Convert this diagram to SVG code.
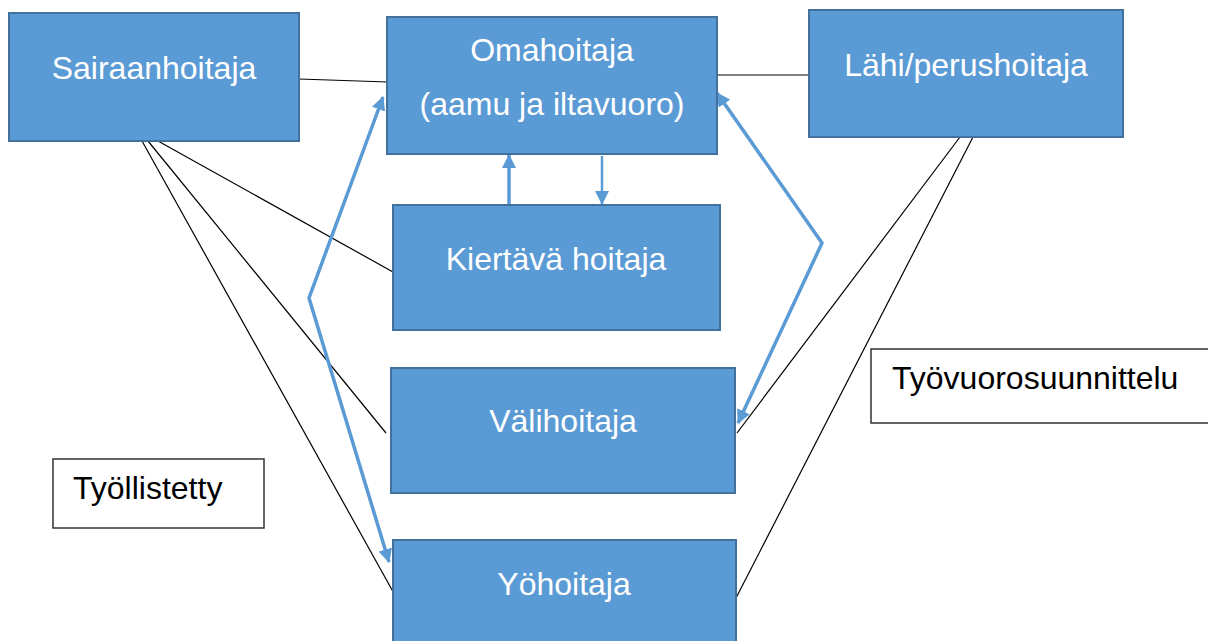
<svg xmlns="http://www.w3.org/2000/svg" width="1208" height="641" viewBox="0 0 1208 641">
  <style>
    .node rect { fill: #5B9BD5; stroke: #41719C; stroke-width: 2; }
    .node text { fill: #FFFFFF; font-family: "Liberation Sans", Arial, sans-serif; font-size: 32px; text-anchor: middle; }
    .note rect { fill: #FFFFFF; stroke: #333333; stroke-width: 1.5; }
    .note text { fill: #000000; font-family: "Liberation Sans", Arial, sans-serif; font-size: 32px; }
    .link { stroke: #000000; stroke-width: 1.2; fill: none; }
    .flow { stroke: #5B9BD5; stroke-width: 3.5; fill: none; stroke-linejoin: miter; }
  </style>
  <defs>
    <marker id="head" viewBox="0 0 14 14" refX="13" refY="7" markerWidth="14" markerHeight="14" markerUnits="userSpaceOnUse" orient="auto-start-reverse">
      <path d="M0,0 L14,7 L0,14 z" fill="#5B9BD5"/>
    </marker>
  </defs>

  <rect width="1208" height="641" fill="#FFFFFF"/>

  <!-- connectors -->
  <g id="connectors">
    <line class="link" x1="299" y1="79" x2="388" y2="82"/>
    <line class="link" x1="717" y1="75" x2="809" y2="75"/>
    <line class="link" x1="158" y1="141" x2="393" y2="272"/>
    <line class="link" x1="148" y1="141" x2="386" y2="433"/>
    <line class="link" x1="142" y1="141" x2="396" y2="597"/>
    <line class="link" x1="960" y1="137" x2="737" y2="433"/>
    <line class="link" x1="973" y1="137" x2="736" y2="598"/>

    <line class="flow" x1="509" y1="205" x2="509" y2="155" stroke-width="4" marker-end="url(#head)"/>
    <line class="flow" x1="602" y1="156" x2="602" y2="204" style="stroke-width:2.5" marker-end="url(#head)"/>
    <path class="flow" d="M383,97 L309,298 L389,562" marker-start="url(#head)" marker-end="url(#head)"/>
    <path class="flow" d="M717,93 L822,243 L738,423" marker-start="url(#head)" marker-end="url(#head)"/>
  </g>

  <g id="sairaanhoitaja" class="node">
    <rect x="9" y="13" width="290" height="128"/>
    <text x="154" y="79">Sairaanhoitaja</text>
  </g>

  <g id="omahoitaja" class="node">
    <rect x="387" y="17" width="330" height="137"/>
    <text x="552" y="61">Omahoitaja</text>
    <text x="552" y="115">(aamu ja iltavuoro)</text>
  </g>

  <g id="lahihoitaja" class="node">
    <rect x="809" y="10" width="314" height="127"/>
    <text x="966" y="76">Lähi/perushoitaja</text>
  </g>

  <g id="kiertava" class="node">
    <rect x="393" y="205" width="327" height="125"/>
    <text x="556" y="270">Kiertävä hoitaja</text>
  </g>

  <g id="valihoitaja" class="node">
    <rect x="391" y="368" width="344" height="125"/>
    <text x="563" y="432">Välihoitaja</text>
  </g>

  <g id="yohoitaja" class="node">
    <rect x="393" y="540" width="343" height="120"/>
    <text x="564" y="595">Yöhoitaja</text>
  </g>

  <g id="tyovuorosuunnittelu" class="note">
    <rect x="871" y="349" width="350" height="74"/>
    <text x="892" y="389">Työvuorosuunnittelu</text>
  </g>

  <g id="tyollistetty" class="note">
    <rect x="53" y="459" width="211" height="69"/>
    <text x="73" y="499">Työllistetty</text>
  </g>
</svg>
